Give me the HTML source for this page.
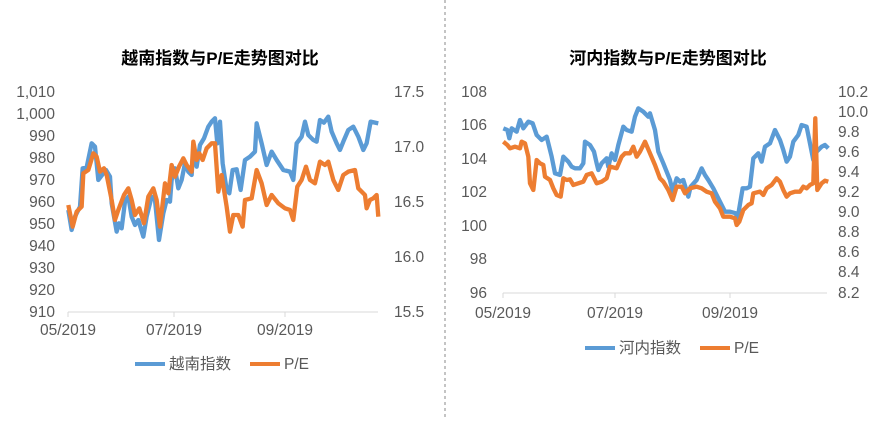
<!DOCTYPE html>
<html><head><meta charset="utf-8"><style>
body{margin:0;background:#fff;}
svg text{font-family:"Liberation Sans","Noto Sans CJK SC",sans-serif;fill:#595959;font-size:15.5px;}
.t{font-weight:bold;fill:#000;font-size:17px;}
</style></head><body>
<svg width="891" height="417" viewBox="0 0 891 417" xmlns="http://www.w3.org/2000/svg">
<rect width="891" height="417" fill="#fff"/>
<line x1="445" y1="0" x2="445" y2="417" stroke="#888" stroke-dasharray="3,3"/>
<text class="t" x="220" y="64" text-anchor="middle">越南指数与P/E走势图对比</text>
<text class="t" x="668" y="64" text-anchor="middle">河内指数与P/E走势图对比</text>
<line x1="68" y1="312" x2="378" y2="312" stroke="#d9d9d9"/>
<line x1="68" y1="312" x2="68" y2="317" stroke="#d9d9d9"/>
<line x1="174" y1="312" x2="174" y2="317" stroke="#d9d9d9"/>
<line x1="285" y1="312" x2="285" y2="317" stroke="#d9d9d9"/>
<g text-anchor="end">
<text x="55" y="97">1,010</text><text x="55" y="119">1,000</text><text x="55" y="141">990</text><text x="55" y="163">980</text><text x="55" y="185">970</text><text x="55" y="207">960</text><text x="55" y="229">950</text><text x="55" y="251">940</text><text x="55" y="273">930</text><text x="55" y="295">920</text><text x="55" y="317">910</text>
</g>
<g>
<text x="394" y="97">17.5</text><text x="394" y="152">17.0</text><text x="394" y="207">16.5</text><text x="394" y="262">16.0</text><text x="394" y="317">15.5</text>
</g>
<g text-anchor="middle">
<text x="68" y="335">05/2019</text><text x="174" y="335">07/2019</text><text x="285" y="335">09/2019</text>
</g>
<g transform="translate(0,80) scale(0.3333)" fill="none" stroke-width="13" stroke-linejoin="round">
<polyline stroke="#5b9bd5" points="205,390 215,450 225,410 240,380 248,265 260,262 275,190 285,200 295,300 310,280 318,270 330,290 335,370 350,455 357,430 365,445 375,365 385,350 395,410 405,435 415,420 430,470 440,410 455,350 465,360 477,480 490,400 500,360 510,365 515,300 525,265 535,325 545,300 555,250 565,275 575,285 580,205 590,260 600,195 612,175 625,140 635,125 645,115 652,190 660,125 668,250 680,330 688,340 698,270 710,268 722,330 735,240 750,230 765,215 770,130 785,190 800,255 815,215 830,240 850,270 870,275 880,300 890,190 905,170 915,125 925,165 940,180 950,185 960,120 972,128 985,110 995,155 1010,190 1020,210 1030,185 1045,150 1060,140 1075,170 1090,210 1100,190 1112,125 1135,130"/>
<polyline stroke="#ed7d31" points="205,375 218,440 230,395 245,380 250,280 265,270 280,220 290,230 300,275 312,265 320,285 335,360 345,420 355,390 372,345 385,325 395,360 405,405 418,385 432,430 445,350 460,325 470,360 480,440 495,310 505,340 515,255 525,290 537,260 550,235 560,255 575,275 580,185 590,240 598,220 608,240 620,205 635,190 645,190 655,335 665,285 680,380 690,455 700,405 715,405 728,440 735,360 755,355 770,270 785,310 800,375 815,345 835,370 855,385 870,390 880,420 892,320 905,300 918,260 930,300 945,310 960,245 975,255 985,245 1000,300 1015,330 1030,285 1045,275 1065,270 1075,325 1095,345 1100,385 1110,360 1120,355 1130,345 1135,410"/>
</g>
<line x1="135" y1="364" x2="165" y2="364" stroke="#5b9bd5" stroke-width="4"/>
<text x="169" y="369">越南指数</text>
<line x1="250" y1="364" x2="280" y2="364" stroke="#ed7d31" stroke-width="4"/>
<text x="284" y="369">P/E</text>
<line x1="503" y1="293" x2="827" y2="293" stroke="#d9d9d9"/>
<line x1="503" y1="293" x2="503" y2="298" stroke="#d9d9d9"/>
<line x1="615" y1="293" x2="615" y2="298" stroke="#d9d9d9"/>
<line x1="730" y1="293" x2="730" y2="298" stroke="#d9d9d9"/>
<g text-anchor="end">
<text x="487" y="97">108</text><text x="487" y="130">106</text><text x="487" y="164">104</text><text x="487" y="197">102</text><text x="487" y="231">100</text><text x="487" y="264">98</text><text x="487" y="298">96</text>
</g>
<g>
<text x="838" y="97">10.2</text><text x="838" y="117">10.0</text><text x="838" y="137">9.8</text><text x="838" y="157">9.6</text><text x="838" y="177">9.4</text><text x="838" y="197">9.2</text><text x="838" y="217">9.0</text><text x="838" y="237">8.8</text><text x="838" y="257">8.6</text><text x="838" y="277">8.4</text><text x="838" y="298">8.2</text>
</g>
<g text-anchor="middle">
<text x="503" y="318">05/2019</text><text x="615" y="318">07/2019</text><text x="730" y="318">09/2019</text>
</g>
<g transform="translate(450,80) scale(0.3333)" fill="none" stroke-width="13" stroke-linejoin="round">
<polyline stroke="#5b9bd5" points="160,145 172,150 178,175 185,145 200,155 210,120 220,145 235,125 248,130 260,165 275,180 290,170 305,230 315,280 330,285 340,230 355,245 365,260 375,265 390,265 400,250 405,185 420,195 432,215 440,250 445,270 455,250 470,235 475,260 485,220 495,240 505,195 520,140 530,150 545,155 555,110 565,85 580,95 595,110 600,100 615,150 625,215 640,250 660,300 668,335 680,295 690,305 700,300 715,350 722,320 740,300 755,265 765,285 775,300 790,325 800,345 815,375 825,395 840,395 858,400 862,420 878,325 890,325 900,320 910,235 925,220 935,245 945,200 960,190 975,150 990,180 1000,210 1010,245 1020,230 1030,185 1045,165 1055,135 1070,140 1082,200 1090,240 1100,215 1115,200 1125,195 1135,205"/>
<polyline stroke="#ed7d31" points="160,185 172,195 180,205 195,200 210,205 215,185 225,190 235,230 240,310 250,330 260,240 270,250 280,255 285,290 300,300 310,325 320,345 332,350 340,295 350,300 360,298 370,315 385,310 400,305 410,285 425,280 440,310 455,305 470,295 480,260 500,265 515,230 525,220 540,220 550,200 560,230 570,215 585,185 600,220 615,255 630,295 640,305 655,330 668,360 680,320 695,320 705,340 720,325 740,320 755,325 770,335 785,340 795,365 810,385 820,410 840,410 855,415 860,435 868,425 880,390 895,375 905,370 910,340 930,335 940,345 950,325 965,315 980,295 990,305 1000,330 1010,350 1020,340 1035,335 1050,335 1060,320 1070,325 1080,315 1090,310 1096,115 1102,330 1115,310 1125,302 1135,305"/>
</g>
<line x1="585" y1="348" x2="615" y2="348" stroke="#5b9bd5" stroke-width="4"/>
<text x="619" y="353">河内指数</text>
<line x1="700" y1="348" x2="730" y2="348" stroke="#ed7d31" stroke-width="4"/>
<text x="734" y="353">P/E</text>
</svg>
</body></html>
